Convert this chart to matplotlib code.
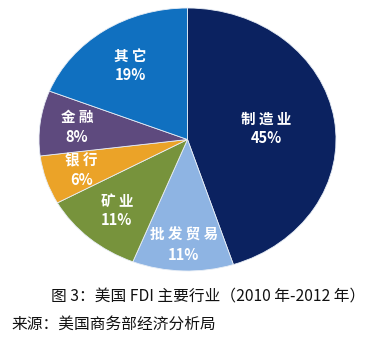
import numpy as np
import matplotlib.pyplot as plt

plt.rcParams['font.family'] = ['Noto Sans CJK SC', 'DejaVu Sans']

# 行业占比（%）
industries = ['制造业', '批发贸易', '矿业', '银行', '金融', '其它']
shares = [45, 11, 11, 6, 8, 19]
colors = ['#0b2260', '#8eb4e3', '#77933c', '#eba328', '#5e4a7e', '#1070c0']
caption = '图 3：美国 FDI 主要行业（2010 年-2012 年）'
source = '来源：美国商务部经济分析局'

W, H = 375, 345
fig = plt.figure(figsize=(W / 100, H / 100), dpi=100)
fig.patch.set_facecolor('white')

# 饼图区域（略呈椭圆）
left, top, right, bottom = 39, 8, 336, 271
ax = fig.add_axes([left / W, 1 - bottom / H, (right - left) / W, (bottom - top) / H])
wedges, _ = ax.pie(shares, colors=colors, startangle=90, counterclock=False,
                   radius=1.0,
                   wedgeprops=dict(edgecolor='#e8eef6', linewidth=0.6))
ax.set_aspect('auto')
ax.set_xlim(-1, 1)
ax.set_ylim(-1, 1)
ax.axis('off')

# 标签
dists = [0.535, 0.8, 0.72, 0.75, 0.75, 0.68]
for w, name, val, d in zip(wedges, industries, shares, dists):
    mid = np.deg2rad((w.theta1 + w.theta2) / 2)
    x, y = d * np.cos(mid), d * np.sin(mid)
    ax.text(x, y + 0.075, ' '.join(name), color='white', fontsize=10.5,
            fontweight='bold', ha='center', va='center')
    ax.text(x, y - 0.075, f'{val}%', color='white', fontsize=10.5,
            fontweight='bold', ha='center', va='center')

fig.text(208 / W, 1 - 297 / H, caption, fontsize=11.3, ha='center', va='center',
         color='#111111')
fig.text(11 / W, 1 - 324 / H, source, fontsize=11.3, ha='left', va='center',
         color='#111111')

fig.savefig('out.png', dpi=100)
